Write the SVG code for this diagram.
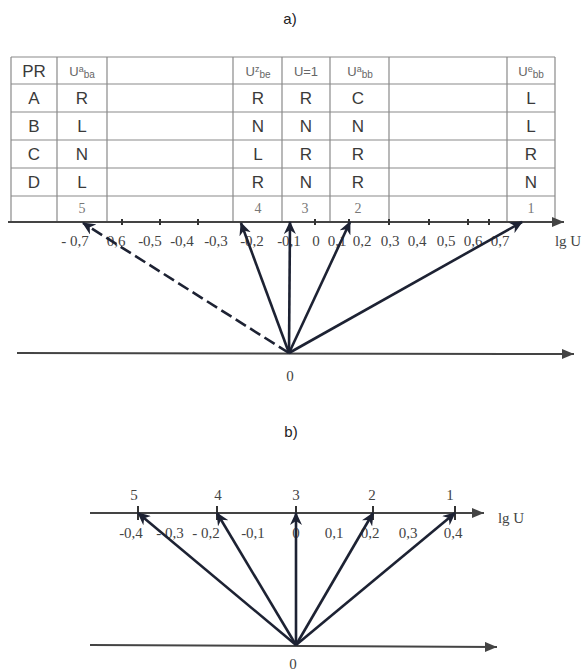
<svg xmlns="http://www.w3.org/2000/svg" width="585" height="672" viewBox="0 0 585 672">
<style>
.tl{stroke:#8a8a8a;stroke-width:1.2;fill:none}
.tt{font-family:"Liberation Sans",Arial,sans-serif;font-size:17px;fill:#3a3a3a;text-anchor:middle}
.th{font-family:"Liberation Sans",Arial,sans-serif;font-size:13px;fill:#666;text-anchor:middle}
.tn{font-family:"Liberation Serif","Times New Roman",serif;font-size:14px;fill:#777;text-anchor:middle}
.ax{font-family:"Liberation Serif","Times New Roman",serif;font-size:15px;fill:#444;text-anchor:middle}
.cap{font-family:"Liberation Sans",Arial,sans-serif;font-size:15px;fill:#222;text-anchor:middle}
.axis{stroke:#444;stroke-width:2;fill:none}
.vec{stroke:#1d2233;stroke-width:2.6;fill:none}
.tick{stroke:#333;stroke-width:2}
</style>
<defs>
<marker id="ah" markerWidth="14" markerHeight="12" refX="12" refY="6" orient="auto" markerUnits="userSpaceOnUse"><path d="M0,0 L13,6 L0,12 L4,6 Z" fill="#1d2233"/></marker>
<marker id="axh" markerWidth="14" markerHeight="10" refX="12" refY="5" orient="auto" markerUnits="userSpaceOnUse"><path d="M0,0 L12,5 L0,10 Z" fill="#444"/></marker>
</defs>

<text class="cap" x="290" y="24">a)</text>
<text class="cap" x="291" y="437">b)</text>

<g id="table">
<path class="tl" d="M11,57 H555 M11,84 H555 M11,112 H555 M11,140 H555 M11,168 H555 M11,196 H555"/>
<path class="tl" d="M11,57 V222 M57,57 V222 M107,57 V222 M233,57 V222 M282,57 V222 M330,57 V222 M389,57 V222 M507,57 V222 M555,57 V222"/>
<text class="tt" x="34" y="77">PR</text>
<text class="th" x="82" y="76">U<tspan font-size="9" dy="-4">a</tspan><tspan font-size="10" dy="6">ba</tspan></text>
<text class="th" x="258" y="76">U<tspan font-size="9" dy="-4">z</tspan><tspan font-size="10" dy="6">be</tspan></text>
<text class="th" x="306" y="76">U=1</text>
<text class="th" x="360" y="76">U<tspan font-size="9" dy="-4">a</tspan><tspan font-size="10" dy="6">bb</tspan></text>
<text class="th" x="531" y="76">U<tspan font-size="9" dy="-4">e</tspan><tspan font-size="10" dy="6">bb</tspan></text>
<text class="tt" x="34" y="104">A</text><text class="tt" x="82" y="104">R</text><text class="tt" x="258" y="104">R</text><text class="tt" x="306" y="104">R</text><text class="tt" x="358" y="104">C</text><text class="tt" x="531" y="104">L</text>
<text class="tt" x="34" y="132">B</text><text class="tt" x="82" y="132">L</text><text class="tt" x="258" y="132">N</text><text class="tt" x="306" y="132">N</text><text class="tt" x="358" y="132">N</text><text class="tt" x="531" y="132">L</text>
<text class="tt" x="34" y="160">C</text><text class="tt" x="82" y="160">N</text><text class="tt" x="258" y="160">L</text><text class="tt" x="306" y="160">R</text><text class="tt" x="358" y="160">R</text><text class="tt" x="531" y="160">R</text>
<text class="tt" x="34" y="188">D</text><text class="tt" x="82" y="188">L</text><text class="tt" x="258" y="188">R</text><text class="tt" x="306" y="188">N</text><text class="tt" x="358" y="188">R</text><text class="tt" x="531" y="188">N</text>
<text class="tn" x="82" y="213">5</text><text class="tn" x="258" y="213">4</text><text class="tn" x="305" y="213">3</text><text class="tn" x="358" y="213">2</text><text class="tn" x="531" y="213">1</text>
</g>

<g id="axis-a">
<line class="axis" x1="8" y1="222" x2="564" y2="222" marker-end="url(#axh)"/>
<path class="tick" d="M122,219 V225 M160,219 V225 M198,219 V225 M315,219 V225 M349,219 V225 M389,219 V225 M429,219 V225 M468,219 V225 M489,219 V225"/>
<text class="ax" x="75" y="246">- 0,7</text>
<text class="ax" x="116" y="246">0,6</text>
<text class="ax" x="150" y="246">-0,5</text>
<text class="ax" x="182" y="246">-0,4</text>
<text class="ax" x="216" y="246">-0,3</text>
<text class="ax" x="252" y="246">-0,2</text>
<text class="ax" x="289" y="246">-0,1</text>
<text class="ax" x="316" y="246">0</text>
<text class="ax" x="337" y="246">0,1</text>
<text class="ax" x="362" y="246">0,2</text>
<text class="ax" x="390" y="246">0,3</text>
<text class="ax" x="417" y="246">0,4</text>
<text class="ax" x="446" y="246">0,5</text>
<text class="ax" x="473" y="246">0,6</text>
<text class="ax" x="500" y="246">0,7</text>
<text class="ax" x="568" y="246">lg U</text>
<line class="axis" x1="17" y1="353" x2="574" y2="354" marker-end="url(#axh)"/>
<text class="ax" x="290" y="381">0</text>
</g>

<g id="vectors-a">
<line class="vec" x1="289" y1="353" x2="83" y2="223" stroke-dasharray="12,5" marker-end="url(#ah)"/>
<line class="vec" x1="289" y1="353" x2="241" y2="223" marker-end="url(#ah)"/>
<line class="vec" x1="289" y1="353" x2="290" y2="222" marker-end="url(#ah)"/>
<line class="vec" x1="289" y1="353" x2="350" y2="222" marker-end="url(#ah)"/>
<line class="vec" x1="289" y1="353" x2="522" y2="222" marker-end="url(#ah)"/>
</g>

<g id="axis-b">
<line class="axis" x1="90" y1="513" x2="484" y2="513" marker-end="url(#axh)"/>
<path class="tick" d="M138,506 V520 M217,506 V520 M296,506 V520 M373,506 V520 M455,506 V520"/>
<text class="ax" x="511" y="523" text-anchor="end">lg U</text>
<text class="ax" x="134" y="500">5</text>
<text class="ax" x="218" y="500">4</text>
<text class="ax" x="296" y="500">3</text>
<text class="ax" x="372" y="500">2</text>
<text class="ax" x="450" y="500">1</text>
<text class="ax" x="131" y="538">-0,4</text>
<text class="ax" x="170" y="538">- 0,3</text>
<text class="ax" x="206" y="538">- 0,2</text>
<text class="ax" x="253" y="538">-0,1</text>
<text class="ax" x="296" y="538">0</text>
<text class="ax" x="334" y="538">0,1</text>
<text class="ax" x="370" y="538">0,2</text>
<text class="ax" x="408" y="538">0,3</text>
<text class="ax" x="453" y="538">0,4</text>
<line class="axis" x1="90" y1="645" x2="497" y2="647" marker-end="url(#axh)"/>
<text class="ax" x="293" y="669">0</text>
</g>

<g id="vectors-b">
<line class="vec" x1="296" y1="645" x2="138" y2="513" marker-end="url(#ah)"/>
<line class="vec" x1="296" y1="645" x2="217" y2="513" marker-end="url(#ah)"/>
<line class="vec" x1="296" y1="645" x2="296" y2="513" marker-end="url(#ah)"/>
<line class="vec" x1="296" y1="645" x2="373" y2="513" marker-end="url(#ah)"/>
<line class="vec" x1="296" y1="645" x2="455" y2="513" marker-end="url(#ah)"/>
</g>
</svg>
